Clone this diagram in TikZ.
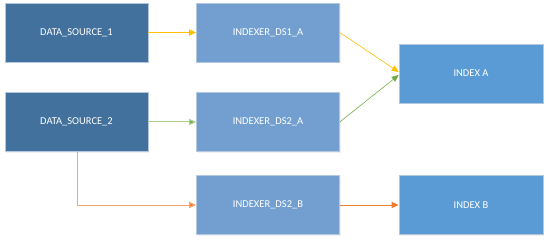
\documentclass[tikz,border=0pt]{standalone}
\usepackage{fontspec}
\setmainfont{Carlito}
\usepackage{xcolor}
\usepackage{tikz}
\usetikzlibrary{arrows.meta,shadows}
\definecolor{srcblue}{HTML}{41719C}
\definecolor{idxrblue}{HTML}{729FCF}
\definecolor{indexblue}{HTML}{5B9BD5}
\definecolor{boxline}{HTML}{B4C7E0}
\definecolor{flowyellow}{HTML}{FFC000}
\definecolor{flowgreen}{HTML}{70AD47}
\definecolor{flowgreenlight}{HTML}{A9D18E}
\definecolor{floworange}{HTML}{ED7D31}
\definecolor{floworangelight}{HTML}{F4A46C}

\begin{document}
\begin{tikzpicture}[
  x=1pt,
  y=-1pt,
  box/.style={draw=boxline, line width=0.6pt, text=white, font=\fontsize{10.5}{12}\selectfont,
    minimum width=143pt, minimum height=59pt, inner sep=0pt,
    drop shadow={opacity=0.12, shadow xshift=1pt, shadow yshift=-1.5pt}},
  source/.style={box, fill=srcblue},
  indexer/.style={box, fill=idxrblue},
  index/.style={box, fill=indexblue, minimum width=144pt},
  flow/.style={line width=1pt, -{Triangle[length=7pt,width=6pt]}}
]
\useasboundingbox (0,0) rectangle (549,243);
\node[source] (ds1) at (76.5,32.5) {DATA\_SOURCE\_1};
\node[source] (ds2) at (76.5,122) {DATA\_SOURCE\_2};
\node[indexer] (ds1a) at (268,32.5) {INDEXER\_DS1\_A};
\node[indexer] (ds2a) at (268,122) {INDEXER\_DS2\_A};
\node[indexer] (ds2b) at (268,205) {INDEXER\_DS2\_B};
\node[index] (idxa) at (471,73.5) {INDEX A};
\node[index] (idxb) at (471,205) {INDEX B};
\draw[flow, flowyellow] (ds1) -- (ds1a);
\draw[flow, flowgreenlight, -{Triangle[length=7pt,width=6pt,fill=flowgreen]}] (ds2) -- (ds2a);
\draw[flow, floworangelight, -{Triangle[length=7pt,width=6pt,fill=floworange]}] ([xshift=0.5pt]ds2.south) |- (ds2b);
\draw[flow, floworange] (ds2b) -- (idxb);
\draw[flow, flowyellow, line width=0.6pt] (ds1a.east) -- ([yshift=1.5pt]idxa.west);
\draw[flow, flowgreen, line width=0.6pt] (ds2a.east) -- ([yshift=-1.5pt]idxa.west);
\end{tikzpicture}
\end{document}
